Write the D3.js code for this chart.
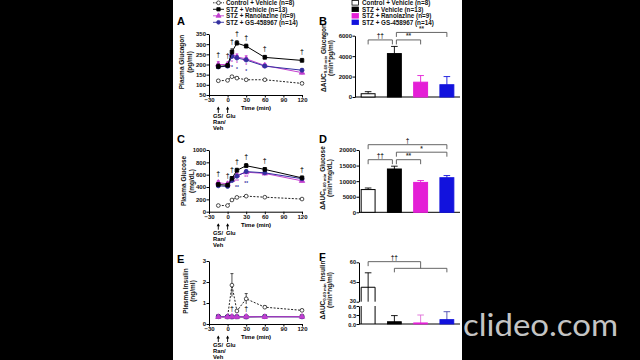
<!DOCTYPE html>
<html>
<head>
<meta charset="utf-8">
<script src="https://cdn.jsdelivr.net/npm/d3@7"></script>
<style>
  html, body { margin: 0; background: #000; }
  svg { display: block; font-family: "Liberation Sans", Arial, sans-serif; }
</style>
</head>
<body>
<svg id="fig" width="640" height="360"></svg>
<script>
// ---- data ----
var times = [-15, 0, 7, 15, 30, 60, 120];
var timeTicks = [-30, 0, 30, 60, 90, 120];
var groups = ["Control + Vehicle (n=8)", "STZ + Vehicle (n=13)", "STZ + Ranolazine (n=9)", "STZ + GS-458967 (n=14)"];

// plasma glucagon (pg/ml)
var glucagonCtrl = [120, 122, 140, 133, 125, 125, 107];
var glucagonCtrlErr = [5, 5, 6, 6, 5, 5, 5];
var glucagonStz = [190, 195, 262, 305, 290, 235, 220];
var glucagonStzErr = [12, 10, 15, 12, 10, 10, 10];
var glucagonRan = [200, 200, 250, 237, 228, 195, 160];
var glucagonRanErr = [15, 12, 18, 15, 15, 10, 10];
var glucagonGs = [188, 192, 240, 232, 222, 192, 172];
var glucagonGsErr = [10, 8, 12, 12, 10, 8, 8];
var glucagonTicks = [50, 100, 150, 200, 250, 300, 350];
var glucagonSig = ["†", "†", "†", "†", "†", "†", "†"];
var glucagonStars = ["", "", "*", "*", "*", "", ""];

// plasma glucose (mg/dL)
var glucoseCtrl = [100, 100, 190, 232, 252, 235, 205];
var glucoseCtrlErr = [10, 10, 12, 12, 12, 10, 10];
var glucoseStz = [440, 430, 540, 670, 745, 685, 548];
var glucoseStzErr = [30, 30, 30, 35, 35, 30, 30];
var glucoseRan = [470, 450, 515, 590, 640, 620, 500];
var glucoseRanErr = [30, 30, 30, 30, 30, 25, 25];
var glucoseGs = [420, 410, 505, 575, 650, 630, 535];
var glucoseGsErr = [30, 25, 30, 30, 30, 25, 25];
var glucoseTicks = [0, 200, 400, 600, 800, 1000];
var glucoseSig = ["†", "†", "†", "†", "†", "†", "†"];
var glucoseStars = ["", "", "", "**", "**", "", ""];

// plasma insulin (ng/ml)
var insulinCtrl = [0.35, 0.35, 1.85, 0.62, 1.2, 0.8, 0.65];
var insulinCtrlErr = [0.03, 0.03, 0.55, 0.05, 0.25, 0.07, 0.05];
var insulinStz = [0.35, 0.34, 0.34, 0.34, 0.34, 0.35, 0.35];
var insulinStzErr = [0.02, 0.02, 0.02, 0.02, 0.02, 0.02, 0.02];
var insulinRan = [0.34, 0.34, 0.35, 0.34, 0.35, 0.34, 0.35];
var insulinRanErr = [0.02, 0.02, 0.02, 0.02, 0.02, 0.02, 0.02];
var insulinGs = [0.35, 0.35, 0.34, 0.35, 0.34, 0.35, 0.34];
var insulinGsErr = [0.02, 0.02, 0.02, 0.02, 0.02, 0.02, 0.02];
var insulinTicks = [0, 1, 2, 3];
var insulinSig = ["", "", "†", "", "†", "", ""];

// AUC 0-60 min
var aucGlucagon = [320, 4250, 1450, 1200];
var aucGlucagonErr = [200, 700, 650, 800];
var aucGlucagonTicks = [0, 2000, 4000, 6000];
var aucGlucagonComps = [[0, 1, "††"], [1, 2, "**"], [1, 3, "**"]];

var aucGlucose = [7300, 13900, 9600, 11100];
var aucGlucoseErr = [500, 900, 600, 700];
var aucGlucoseTicks = [0, 5000, 10000, 15000, 20000];
var aucGlucoseComps = [[0, 1, "††"], [1, 2, "**"], [1, 3, "*"], [0, 3, "†"]];

var aucInsulin = [41, 0.06, 0.02, 0.13];
var aucInsulinErr = [11, 0.22, 0.28, 0.28];
var aucInsulinTicksHi = [30, 45, 60];
var aucInsulinTicksLo = [0, 0.3, 0.6];

// ---- styles ----
var lineColors = ["#222", "#000", "#c23fcf", "#33309f"];
var barColors = ["#fff", "#000", "#e41fd6", "#1212dd"];
var symbols = [d3.symbolCircle, d3.symbolSquare, d3.symbolTriangle, d3.symbolCircle];

var svg = d3.select("#fig");

svg.append("rect").attr("x", 173).attr("y", 0).attr("width", 289).attr("height", 360).attr("fill", "#fff");

function styleAxis(g) {
  g.selectAll("path, line").attr("stroke", "#000").attr("stroke-width", 1);
  g.selectAll("text").attr("font-size", 6).attr("font-weight", "bold").attr("fill", "#111")
    .attr("font-family", "Liberation Sans, Arial, sans-serif");
}

function vTitle(x, y, lines) {
  lines.forEach(function(l, i) {
    var t = svg.append("text")
      .attr("transform", "translate(" + (x + i * 7.5) + "," + y + ") rotate(-90)")
      .attr("text-anchor", "middle").attr("dominant-baseline", "central")
      .attr("font-size", 6.5).attr("font-weight", "bold").attr("fill", "#111");
    if (typeof l === "string") { t.text(l); }
    else {
      t.append("tspan").text(l[0]);
      t.append("tspan").attr("font-size", 4.3).attr("dy", 1.6).text(l[1]);
      t.append("tspan").attr("dy", -1.6).text(l[2]);
    }
  });
}

function letter(s, x, y) {
  svg.append("text").attr("x", x).attr("y", y).attr("font-size", 11).attr("font-weight", "bold").text(s);
}

// ---- line panels ----
function linePanel(cfg) {
  var x = d3.scaleLinear().domain([-30, 120]).range([209, 302]);
  var y = d3.scaleLinear().domain(cfg.domain).range(cfg.range);
  var g = svg.append("g");

  g.append("g").attr("transform", "translate(0," + cfg.range[0] + ")")
    .call(d3.axisBottom(x).tickValues(timeTicks).tickSize(2.5).tickPadding(0.5).tickSizeOuter(0))
    .call(styleAxis);
  g.append("g").attr("transform", "translate(209,0)")
    .call(d3.axisLeft(y).tickValues(cfg.ticks).tickFormat(d3.format("d")).tickSize(2.5).tickPadding(0.5).tickSizeOuter(0))
    .call(styleAxis);

  cfg.order.forEach(function(k) {
    var s = cfg.series[k];
    var pts = times.map(function(t, i) { return { t: t, v: s.vals[i], e: s.errs[i] }; });
    g.append("path").datum(pts)
      .attr("fill", "none").attr("stroke", lineColors[k]).attr("stroke-width", 1)
      .attr("stroke-dasharray", k === 0 ? "2,1.5" : null)
      .attr("d", d3.line().x(function(d) { return x(d.t); }).y(function(d) { return y(d.v); }));
    g.selectAll(null).data(pts).enter().append("path")
      .attr("fill", "none").attr("stroke", lineColors[k]).attr("stroke-width", 0.8)
      .attr("d", function(d) {
        var xx = x(d.t), y1 = y(d.v + d.e), y0 = y(d.v - d.e);
        return "M" + xx + "," + y0 + "V" + y1 + "M" + (xx - 1.5) + "," + y1 + "H" + (xx + 1.5);
      });
    g.selectAll(null).data(pts).enter().append("path")
      .attr("transform", function(d) { return "translate(" + x(d.t) + "," + y(d.v) + ")"; })
      .attr("d", d3.symbol().type(symbols[k]).size(k === 0 ? 11 : 13))
      .attr("fill", k === 0 ? "#fff" : lineColors[k])
      .attr("stroke", lineColors[k]).attr("stroke-width", 0.8);
  });

  // daggers vs control
  cfg.sig.forEach(function(s, i) {
    if (!s) return;
    var yy;
    if (cfg.sigBelow) {
      yy = y(cfg.series[1].vals[i] + cfg.series[1].errs[i]) - 5;
    } else {
      var top = d3.max(cfg.series.slice(1), function(se) { return se.vals[i] + se.errs[i]; });
      yy = y(top) - 4.5;
    }
    g.append("text").attr("x", x(times[i])).attr("y", yy).attr("text-anchor", "middle")
      .attr("font-size", 7).attr("font-weight", "bold").attr("fill", "#333").text(s);
  });
  // stars vs STZ (Ranolazine above, GS below)
  (cfg.stars || []).forEach(function(s, i) {
    if (!s) return;
    var low = d3.min([cfg.series[2], cfg.series[3]], function(se) { return se.vals[i] - se.errs[i]; });
    [2, 3].forEach(function(k, j) {
      g.append("text").attr("x", x(times[i])).attr("y", y(low) + 5 + j * 5.5)
        .attr("text-anchor", "middle").attr("font-size", 4.8).attr("font-weight", "bold")
        .attr("fill", lineColors[k]).text(s);
    });
  });

  // x title + dosing arrows
  var base = cfg.range[0];
  g.append("text").attr("x", 256).attr("y", base + 15).attr("text-anchor", "middle")
    .attr("font-size", 6).attr("font-weight", "bold").text("Time (min)");
  [-15, 0].forEach(function(t) {
    var xx = x(t);
    g.append("path").attr("d", "M" + xx + "," + (base + 18) + "V" + (base + 12.5))
      .attr("stroke", "#000").attr("stroke-width", 0.9);
    g.append("path").attr("d", "M" + (xx - 1.6) + "," + (base + 14.5) + "L" + xx + "," + (base + 11.5) + "L" + (xx + 1.6) + "," + (base + 14.5) + "Z")
      .attr("fill", "#000");
  });
  var lbl = [["GS/", 0], ["Ran/", 6], ["Veh", 12]];
  lbl.forEach(function(l) {
    g.append("text").attr("x", 213).attr("y", base + 23 + l[1]).attr("font-size", 5.8).attr("font-weight", "bold").text(l[0]);
  });
  g.append("text").attr("x", 226).attr("y", base + 23).attr("font-size", 5.8).attr("font-weight", "bold").text("Glu");

  vTitle(cfg.titleX, cfg.titleY, cfg.title);
}

function ser(a, ae, b, be, c, ce, d, de) {
  return [{ vals: a, errs: ae }, { vals: b, errs: be }, { vals: c, errs: ce }, { vals: d, errs: de }];
}

linePanel({
  domain: [50, 350], range: [95, 34], ticks: glucagonTicks, order: [0, 2, 3, 1],
  series: ser(glucagonCtrl, glucagonCtrlErr, glucagonStz, glucagonStzErr, glucagonRan, glucagonRanErr, glucagonGs, glucagonGsErr),
  sig: glucagonSig, stars: glucagonStars,
  title: ["Plasma Glucagon", "(pg/ml)"], titleX: 181.5, titleY: 62
});
linePanel({
  domain: [0, 1000], range: [211.7, 150], ticks: glucoseTicks, order: [0, 2, 3, 1],
  series: ser(glucoseCtrl, glucoseCtrlErr, glucoseStz, glucoseStzErr, glucoseRan, glucoseRanErr, glucoseGs, glucoseGsErr),
  sig: glucoseSig, stars: glucoseStars,
  title: ["Plasma Glucose", "(mg/dL)"], titleX: 183.5, titleY: 181
});
linePanel({
  domain: [0, 3], range: [324, 261], ticks: insulinTicks, order: [0, 1, 3, 2],
  series: ser(insulinCtrl, insulinCtrlErr, insulinStz, insulinStzErr, insulinRan, insulinRanErr, insulinGs, insulinGsErr),
  sig: insulinSig, sigBelow: true,
  title: ["Plasma Insulin", "(ng/ml)"], titleX: 185, titleY: 291
});

// ---- bar panels ----
var xb = d3.scaleBand().domain(d3.range(groups.length)).range([355, 460]).paddingInner(0.47).paddingOuter(0.235);

function bracket(g, x1, x2, yy, label, drop) {
  g.append("path").attr("fill", "none").attr("stroke", "#555").attr("stroke-width", 0.9)
    .attr("d", "M" + x1 + "," + (yy + drop) + "V" + yy + "H" + x2 + "V" + (yy + drop));
  g.append("text").attr("x", (x1 + x2) / 2).attr("y", yy - 1.5).attr("text-anchor", "middle")
    .attr("font-size", 6.5).attr("font-weight", "bold").attr("fill", "#333").text(label);
}

function barPanel(cfg) {
  var y = d3.scaleLinear().domain(cfg.domain).range(cfg.range);
  var g = svg.append("g");
  g.append("g").attr("transform", "translate(" + cfg.axisX + ",0)")
    .call(d3.axisLeft(y).tickValues(cfg.ticks).tickFormat(d3.format("d")).tickSize(2.5).tickPadding(0.5).tickSizeOuter(0))
    .call(styleAxis);
  g.append("path").attr("d", "M" + cfg.axisX + "," + cfg.range[0] + "H460").attr("stroke", "#000");

  cfg.vals.forEach(function(v, i) {
    var xx = xb(i) + xb.bandwidth() / 2, e = cfg.errs[i];
    var ec = i < 2 ? "#000" : barColors[i];
    g.append("path").attr("stroke", ec).attr("stroke-width", 0.9).attr("fill", "none")
      .attr("d", "M" + xx + "," + y(v) + "V" + y(v + e) + "M" + (xx - 3.3) + "," + y(v + e) + "H" + (xx + 3.3));
    g.append("rect").attr("x", xb(i)).attr("width", xb.bandwidth())
      .attr("y", y(v)).attr("height", y(0) - y(v))
      .attr("fill", barColors[i]).attr("stroke", i < 2 ? "#000" : barColors[i]).attr("stroke-width", 1);
  });

  var topY = y(d3.max(cfg.vals, function(v, i) { return v + cfg.errs[i]; }));
  cfg.comps.forEach(function(c) {
    var level = c[1] - c[0] - 1;
    var x1 = xb(c[0]) + xb.bandwidth() / 2 + (c[0] === 1 ? 2 : 0);
    var x2 = xb(c[1]) + xb.bandwidth() / 2 - (c[1] === 1 ? 2 : 0);
    bracket(g, x1, x2, topY - 6.5 - level * 7.5, c[2], 4.5);
  });
  vTitle(cfg.titleX, cfg.titleY, cfg.title);
}

barPanel({
  domain: [0, 6000], range: [97, 35.7], ticks: aucGlucagonTicks, axisX: 355,
  vals: aucGlucagon, errs: aucGlucagonErr, comps: aucGlucagonComps,
  title: [["ΔAUC", "0-60 min", " Glucagon"], "(min*pg/ml)"], titleX: 323, titleY: 58
});
barPanel({
  domain: [0, 20000], range: [212.3, 150], ticks: aucGlucoseTicks, axisX: 359,
  vals: aucGlucose, errs: aucGlucoseErr, comps: aucGlucoseComps,
  title: [["ΔAUC", "0-60 min", " Glucose"], "(min*mg/dL)"], titleX: 322, titleY: 178
});

// panel F: broken y axis
(function() {
  var yHi = d3.scaleLinear().domain([30, 60]).range([301.7, 262.3]);
  var yLo = d3.scaleLinear().domain([0, 0.6]).range([324, 306]);
  var g = svg.append("g");
  g.append("g").attr("transform", "translate(359,0)")
    .call(d3.axisLeft(yHi).tickValues(aucInsulinTicksHi).tickSize(2.5).tickPadding(0.5).tickSizeOuter(0))
    .call(styleAxis)
    .call(function(a) { a.selectAll("text").attr("font-size", 5.6).attr("dy", "0.2em"); });
  g.append("g").attr("transform", "translate(359,0)")
    .call(d3.axisLeft(yLo).tickValues(aucInsulinTicksLo).tickFormat(d3.format(".1f")).tickSize(2.5).tickPadding(0.5).tickSizeOuter(0))
    .call(styleAxis)
    .call(function(a) { a.selectAll("text").attr("font-size", 5.6).attr("dy", "0.45em"); });
  g.append("path").attr("d", "M359,324H460").attr("stroke", "#000");

  aucInsulin.forEach(function(v, i) {
    var x0 = xb(i), w = xb.bandwidth(), xx = x0 + w / 2, e = aucInsulinErr[i];
    var ec = i < 2 ? "#000" : (i === 2 ? "#e070d8" : "#4a48b0");
    if (v > 0.6) {
      // bar continues through the break
      g.append("path").attr("fill", "none").attr("stroke", "#000").attr("stroke-width", 1)
        .attr("d", "M" + x0 + "," + yHi(30) + "V" + yHi(v) + "H" + (x0 + w) + "V" + yHi(30) +
          "M" + x0 + "," + yLo(0.6) + "V" + yLo(0) + "M" + (x0 + w) + "," + yLo(0.6) + "V" + yLo(0));
      g.append("path").attr("fill", "none").attr("stroke", "#000").attr("stroke-width", 0.9)
        .attr("d", "M" + xx + "," + yHi(v - e) + "V" + yHi(v + e) + "M" + (xx - 3.3) + "," + yHi(v + e) + "H" + (xx + 3.3));
    } else {
      g.append("path").attr("fill", "none").attr("stroke", ec).attr("stroke-width", 0.9)
        .attr("d", "M" + xx + "," + yLo(v) + "V" + yLo(v + e) + "M" + (xx - 3.3) + "," + yLo(v + e) + "H" + (xx + 3.3));
      g.append("rect").attr("x", x0).attr("width", w).attr("y", yLo(v) - 0.5).attr("height", yLo(0) - yLo(v) + 0.5)
        .attr("fill", barColors[i]).attr("stroke", barColors[i]).attr("stroke-width", 0.8);
    }
  });

  // brackets: control vs all STZ groups
  var c = function(i) { return xb(i) + xb.bandwidth() / 2; };
  var yB2 = yHi(55.4), yB1 = yHi(60.5), mid = (c(1) + c(3)) / 2;
  g.append("path").attr("fill", "none").attr("stroke", "#555").attr("stroke-width", 0.9)
    .attr("d", "M" + c(1) + "," + (yB2 + 4) + "V" + yB2 + "H" + c(3) + "V" + (yB2 + 4) +
      "M" + c(0) + "," + (yB1 + 4.5) + "V" + yB1 + "H" + mid + "V" + yB2);
  g.append("text").attr("x", (c(0) + mid) / 2).attr("y", yB1 - 2).attr("text-anchor", "middle")
    .attr("font-size", 6.5).attr("font-weight", "bold").attr("fill", "#333").text("††");

  vTitle(322, 290, [["ΔAUC", "0-60 min", " Insulin"], "(min*ng/ml)"]);
})();

// ---- legends ----
groups.forEach(function(name, k) {
  var yy = 2.8 + k * 6.5;
  svg.append("path").attr("d", "M213," + yy + "H224").attr("stroke", lineColors[k])
    .attr("stroke-dasharray", k === 0 ? "1.5,1" : null).attr("stroke-width", 0.9);
  svg.append("path").attr("transform", "translate(218.5," + yy + ")")
    .attr("d", d3.symbol().type(symbols[k]).size(11))
    .attr("fill", k === 0 ? "#fff" : lineColors[k]).attr("stroke", lineColors[k]).attr("stroke-width", 0.8);
  svg.append("text").attr("x", 226).attr("y", yy).attr("dominant-baseline", "central")
    .attr("font-size", 6.3).attr("font-weight", "bold").attr("fill", "#111").text(name);

  svg.append("rect").attr("x", 352).attr("y", yy - 2.3).attr("width", 6.5).attr("height", 4.6)
    .attr("fill", barColors[k]).attr("stroke", k < 2 ? "#000" : barColors[k]).attr("stroke-width", 0.8);
  svg.append("text").attr("x", 362).attr("y", yy).attr("dominant-baseline", "central")
    .attr("font-size", 6.3).attr("font-weight", "bold").attr("fill", "#111").text(name);
});

letter("A", 177, 25);
letter("B", 319, 25);
letter("C", 177, 143);
letter("D", 319, 143);
letter("E", 177, 263);
letter("F", 319, 261);

// watermark
svg.append("text").attr("x", 463).attr("y", 336).attr("font-family", "Lato, 'Open Sans', sans-serif")
  .attr("font-size", 30).attr("fill", "#c4c4c4").attr("textLength", 155).attr("lengthAdjust", "spacingAndGlyphs")
  .text("clideo.com");
</script>
</body>
</html>
